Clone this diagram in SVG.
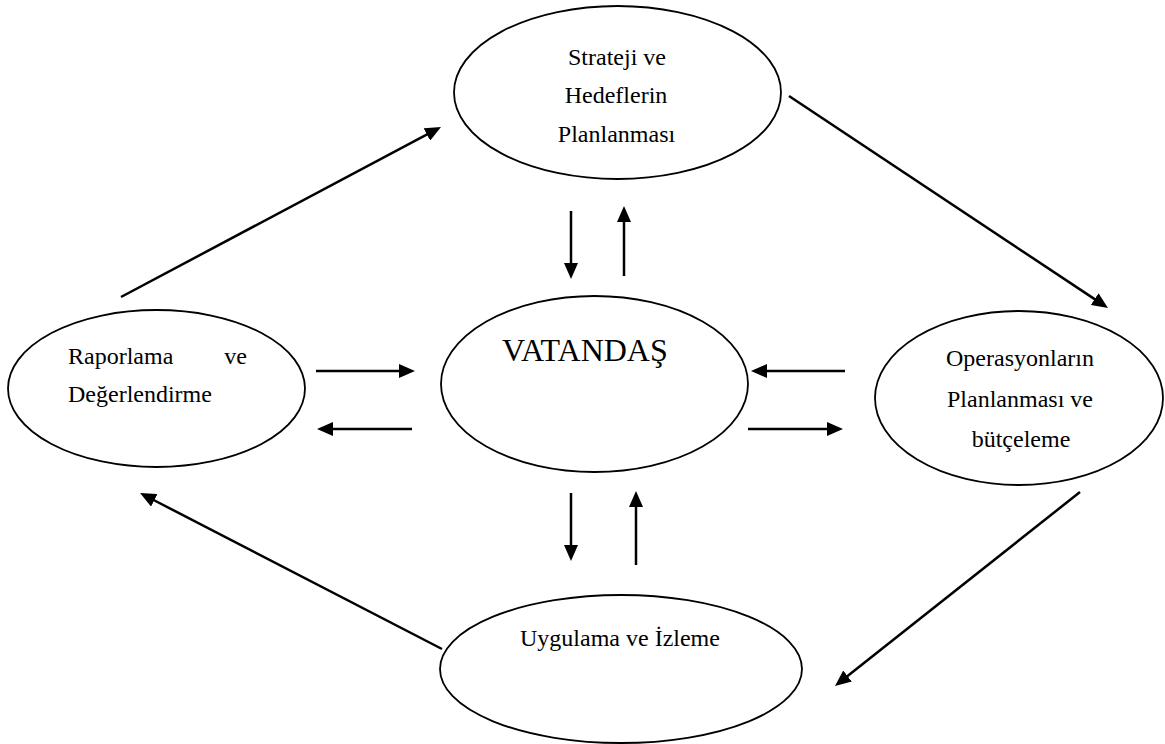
<svg xmlns="http://www.w3.org/2000/svg" width="1165" height="744" viewBox="0 0 1165 744">
<defs>
<marker id="ah" markerUnits="userSpaceOnUse" markerWidth="16" markerHeight="14" refX="4" refY="7" orient="auto">
<path d="M0,0 L16,7 L0,14 z" fill="#000"/>
</marker>
<style>
.node ellipse{fill:#fff;stroke:#000;stroke-width:1.8}
.lbl{font-family:"Liberation Serif","Times New Roman",serif;font-size:24px;fill:#000}
.big{font-size:32px}
.c{text-anchor:middle}
#connectors line{stroke:#000;stroke-width:2.5;marker-end:url(#ah)}
</style>
</defs>
<rect width="1165" height="744" fill="#fff"/>
<g id="connectors">
<line x1="121" y1="297" x2="430.4" y2="132.6"/>
<line x1="789" y1="96" x2="1098" y2="301.4"/>
<line x1="1080" y1="492" x2="844.4" y2="678.5"/>
<line x1="442" y1="649" x2="150.7" y2="498.5"/>
<line x1="316" y1="371" x2="403" y2="371"/>
<line x1="412" y1="429" x2="329" y2="429"/>
<line x1="845" y1="371" x2="763" y2="371"/>
<line x1="748" y1="429" x2="831" y2="429"/>
<line x1="571" y1="211" x2="571" y2="267"/>
<line x1="624" y1="276" x2="624" y2="218"/>
<line x1="571" y1="493" x2="571" y2="549"/>
<line x1="636" y1="565" x2="636" y2="503"/>
</g>
<g id="strateji" class="node">
<ellipse cx="617.5" cy="92.5" rx="163.5" ry="86.5"/>
<text class="lbl c" x="617" y="65">Strateji ve</text>
<text class="lbl c" x="616" y="103">Hedeflerin</text>
<text class="lbl c" x="616.5" y="142">Planlanması</text>
</g>
<g id="raporlama" class="node">
<ellipse cx="156.5" cy="388.5" rx="148.5" ry="78.5"/>
<text class="lbl" x="68" y="364">Raporlama</text>
<text class="lbl" x="247" y="364" text-anchor="end">ve</text>
<text class="lbl" x="68" y="402">Değerlendirme</text>
</g>
<g id="vatandas" class="node">
<ellipse cx="594.5" cy="384" rx="153.5" ry="88"/>
<text class="lbl big" x="502" y="361">VATANDAŞ</text>
</g>
<g id="operasyon" class="node">
<ellipse cx="1019" cy="398" rx="144" ry="87"/>
<text class="lbl c" x="1020" y="366">Operasyonların</text>
<text class="lbl c" x="1020" y="407">Planlanması ve</text>
<text class="lbl c" x="1021" y="447">bütçeleme</text>
</g>
<g id="uygulama" class="node">
<ellipse cx="621" cy="669" rx="181" ry="74"/>
<text class="lbl c" x="620" y="646">Uygulama ve İzleme</text>
</g>
</svg>
